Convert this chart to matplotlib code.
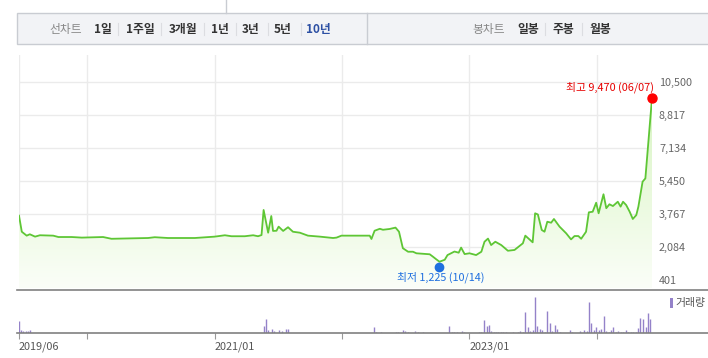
import matplotlib
matplotlib.use('Agg')
import matplotlib.pyplot as plt
import matplotlib.dates as mdates
from matplotlib.colors import LinearSegmentedColormap
from matplotlib.patches import Rectangle
from matplotlib.lines import Line2D
from matplotlib.transforms import offset_copy
import numpy as np
import pandas as pd

plt.rcParams['font.family'] = ['Noto Sans CJK KR', 'DejaVu Sans']

W, H = 708, 358

# --- data ---
start = pd.Timestamp('2019-06-20')
end = pd.Timestamp('2024-06-07')

# closing price, days after start
price_days = [0, 8, 22, 31, 46, 60, 98, 113, 151, 180, 241, 265, 370, 389, 427, 504,
              561, 590, 609, 647, 671, 685, 695, 701, 714, 723, 728, 738, 744, 757, 771,
              785, 805, 828, 862, 900, 910, 924, 1005, 1010, 1019, 1034, 1043, 1062, 1079,
              1089, 1100, 1115, 1129, 1139, 1177, 1186, 1196, 1205, 1220, 1228, 1248, 1260,
              1267, 1277, 1291, 1310, 1325, 1334, 1344, 1353, 1365, 1382, 1401, 1420, 1444,
              1451, 1472, 1479, 1487, 1498, 1506, 1514, 1525, 1533, 1549, 1568, 1582, 1592,
              1603, 1611, 1625, 1633, 1644, 1654, 1661, 1675, 1683, 1692, 1702, 1716, 1724,
              1731, 1740, 1750, 1759, 1769, 1775, 1787, 1795, 1814]
price = [3690, 2870, 2670, 2740, 2620, 2690, 2670, 2600, 2600, 2570, 2600, 2510, 2550, 2590,
         2550, 2550, 2620, 2690, 2640, 2640, 2690, 2640, 2700, 3980, 2820, 3670, 2910, 2920,
         3130, 2910, 3100, 2870, 2820, 2670, 2620, 2550, 2570, 2670, 2670, 2500, 2920, 3020,
         2970, 3010, 3080, 2870, 2030, 1850, 1850, 1770, 1720, 1600, 1460, 1340, 1440, 1680,
         1860, 1800, 2060, 1730, 1770, 1680, 1850, 2360, 2520, 2190, 2360, 2190, 1900, 1940,
         2280, 2670, 2330, 3810, 3750, 2960, 2870, 3380, 3330, 3520, 3130, 2790, 2480, 2650,
         2650, 2510, 2870, 3860, 3890, 4350, 3810, 4780, 4070, 4270, 4180, 4400, 4150, 4400,
         4230, 3890, 3520, 3720, 4150, 5420, 5590, 9690]

# volume (relative), days after start
vol_days = [1, 6, 12, 19, 25, 31, 703, 709, 714, 724, 731, 744, 753, 766, 772,
            1018, 1024, 1038, 1080, 1086, 1101, 1107, 1116, 1136, 1144, 1159, 1233, 1241,
            1247, 1256, 1270, 1276, 1319, 1325, 1333, 1340, 1348, 1353, 1360, 1368, 1374,
            1382, 1388, 1396, 1417, 1431, 1437, 1444, 1451, 1460, 1465, 1473, 1480, 1485,
            1494, 1500, 1508, 1514, 1522, 1528, 1537, 1543, 1551, 1578, 1586, 1607, 1620,
            1627, 1634, 1640, 1648, 1654, 1662, 1669, 1677, 1683, 1690, 1697, 1703, 1711,
            1717, 1725, 1731, 1740, 1746, 1753, 1760, 1767, 1775, 1780, 1789, 1796, 1803, 1809]
volume = [12, 3, 2, 2, 2, 3, 7, 14, 3, 4, 2, 3, 2, 4, 4,
          6, 1.5, 1.5, 1.5, 1.5, 3, 2, 1.5, 2, 1.5, 1.5, 7, 1.5,
          1.5, 1.5, 2, 1.5, 1.5, 1.5, 13, 7, 8, 2, 1.5, 1.5, 1.5,
          1.5, 1.5, 1.5, 1.5, 1.5, 2, 1.5, 21, 6, 2, 3, 36, 7,
          4, 3, 1.5, 22, 10, 2, 8, 4, 1.5, 3, 1.5, 2, 3,
          2, 31, 10, 3, 6, 3, 4, 17, 2, 1.5, 3, 6, 1.5,
          2, 1.5, 1.5, 3, 1.5, 1.5, 1.5, 1.5, 5, 15, 14, 6, 20, 14]

y_ticks = [401, 2084, 3767, 5450, 7134, 8817, 10500]
grid_dates = ['2019-06-20', '2020-01-01', '2021-01-01', '2022-01-01', '2023-01-01', '2024-01-01']
grid_labels = ['2019/06', '', '2021/01', '', '2023/01', '']

high_text = '최고 9,470 (06/07)'
low_text = '최저 1,225 (10/14)'

line_tabs = ['1일', '1주일', '3개월', '1년', '3년', '5년', '10년']
candle_tabs = ['일봉', '주봉', '월봉']

# --- figure ---
fig = plt.figure(figsize=(W / 100, H / 100), dpi=100)


def fx(x):
    return x / W


def fy(y):
    return 1 - y / H


# header bar
fig.add_artist(Rectangle((fx(17), fy(44)), fx(708 - 17) + 0.01, 31 / H,
                         facecolor='#f2f3f6', edgecolor='#c9ccd2', lw=1.0))
fig.add_artist(Line2D([fx(367)] * 2, [fy(13), fy(44)], color='#c9ccd2', lw=1.0))
fig.add_artist(Line2D([fx(226)] * 2, [fy(0), fy(13)], color='#c9ccd2', lw=1.0))

fig.text(fx(66), fy(29), '선차트', ha='center', va='center', fontsize=8.5, color='#888888')
tab_x = [102.5, 140.5, 183.5, 219.5, 250.5, 283, 318.5]
for t, x in zip(line_tabs, tab_x):
    c = '#2c4fa3' if t == '10년' else '#333333'
    fig.text(fx(x), fy(29), t, ha='center', va='center', fontsize=8.5, color=c, weight='bold')
for x in [118, 161, 204, 236, 268, 301, 545, 582]:
    fig.add_artist(Line2D([fx(x)] * 2, [fy(23), fy(35)], color='#dcdde1', lw=0.8))
fig.text(fx(488.5), fy(29), '봉차트', ha='center', va='center', fontsize=8.5, color='#888888')
for t, x in zip(candle_tabs, [528, 563.5, 600]):
    fig.text(fx(x), fy(29), t, ha='center', va='center', fontsize=8.5, color='#333333', weight='bold')

# price panel
dates = mdates.date2num(start + pd.to_timedelta(price_days, unit='D'))
x0, x1 = mdates.date2num(start), mdates.date2num(end)
ymax = (288 - 55) * 51

ax = fig.add_axes([fx(19), fy(288), fx(633), (288 - 55) / H])
poly = ax.fill_between(dates, price, 0, color='none', lw=0)
grad = np.linspace(1, 0, 256).reshape(-1, 1)
cmap = LinearSegmentedColormap.from_list('g', ['#fbfef8', '#d0f2b6'])
im = ax.imshow(grad, extent=[x0, x1, 0, ymax], aspect='auto', cmap=cmap, origin='upper', zorder=1)
im.set_clip_path(poly.get_paths()[0], transform=ax.transData)
ax.plot(dates, price, color='#5ec635', lw=1.3, zorder=3)

imax = int(np.argmax(price))
imin = int(np.argmin(price))
ax.plot(dates[imax], price[imax], 'o', color='#ff0000', ms=6.5, zorder=4, clip_on=False)
ax.annotate(high_text, (dates[imax], price[imax]), xytext=(2, 11), textcoords='offset pixels',
            ha='right', va='center', fontsize=7.8, color='#e60000')
low_tr = offset_copy(ax.transData, fig=fig, x=0, y=-5, units='dots')
ax.plot(dates[imin], price[imin], 'o', color='#1f6fdf', ms=6, zorder=4, transform=low_tr)
ax.annotate(low_text, (dates[imin], price[imin]), xytext=(1, -16), textcoords='offset pixels',
            ha='center', va='center', fontsize=7.8, color='#1f6fdf')

ax.set_xlim(x0, x1)
ax.set_ylim(0, ymax)
ax.set_yticks(y_ticks)
ax.set_yticklabels([f'{v:,}' for v in y_ticks])
ax.yaxis.tick_right()
ax.tick_params(axis='y', length=0, pad=5, labelsize=7.8, labelcolor='#666666')
ax.set_xticks(mdates.date2num(pd.to_datetime(grid_dates)))
ax.set_xticklabels([])
ax.tick_params(axis='x', length=0)
ax.grid(True, color='#ebebeb', lw=1.0, zorder=0)
ax.set_axisbelow(True)
for s in ax.spines.values():
    s.set_visible(False)

# volume panel
vdates = mdates.date2num(start + pd.to_timedelta(vol_days, unit='D'))
av = fig.add_axes([fx(19), fy(333), fx(633), 43 / H])
av.vlines(vdates, 0, volume, color='#9482c9', lw=1.0)
av.set_xlim(x0, x1)
av.set_ylim(0, 43)
av.set_yticks([])
av.set_xticks(mdates.date2num(pd.to_datetime(grid_dates)))
av.set_xticklabels(grid_labels, ha='left')
av.tick_params(axis='x', length=4, color='#999999', pad=2, labelsize=7.8, labelcolor='#555555')
for s in av.spines.values():
    s.set_visible(False)

fig.add_artist(Line2D([fx(17), 1], [fy(290)] * 2, color='#808080', lw=1.2))
fig.add_artist(Line2D([fx(17), 1], [fy(333)] * 2, color='#808080', lw=1.2))

fig.add_artist(Rectangle((fx(670), fy(308)), 3 / W, 10 / H, facecolor='#9482c9', lw=0))
fig.text(fx(675), fy(303), '거래량', ha='left', va='center', fontsize=7.8, color='#555555')

fig.savefig('out.png', dpi=100)
